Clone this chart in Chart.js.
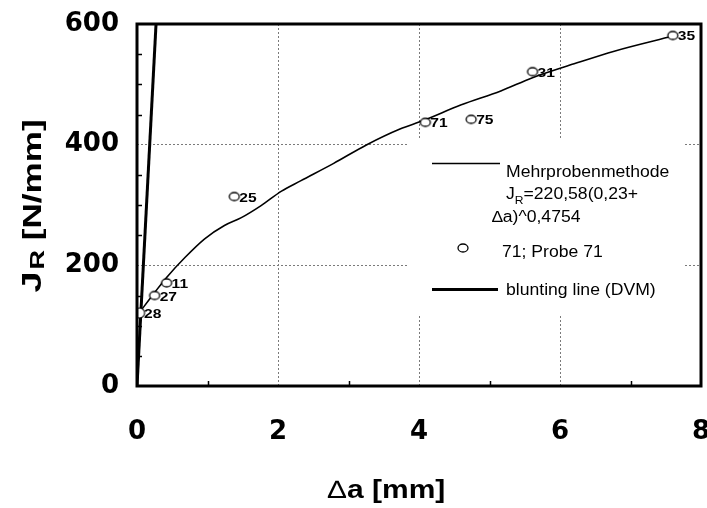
<!DOCTYPE html>
<html><head><meta charset="utf-8">
<script src="https://cdn.jsdelivr.net/npm/chart.js@4/dist/chart.umd.min.js"></script>
<style>html,body{margin:0;padding:0;background:#fff}canvas{display:block}</style>
</head><body>
<canvas id="c" width="707" height="508"></canvas>
<script>
// ---- data ----
const curveX = [0.03, 0.25, 0.42, 0.68, 0.96, 1.24, 1.48, 1.76, 2.05, 2.32, 2.79, 3.26, 3.73, 4.06, 4.6, 5.16, 5.61, 6.2, 6.77, 7.6];
const curveY = [121, 155, 180, 213, 244, 266, 279, 299, 323, 340, 369, 400, 426, 440, 466, 489, 511, 534, 555, 580];
const bluntX = [0, 0.27];
const bluntY = [0, 600];
const probeNames = ['28', '27', '11', '25', '71', '75', '31', '35'];
const probeX = [0.03, 0.25, 0.42, 1.38, 4.09, 4.74, 5.61, 7.6];
const probeY = [121, 150, 171, 314, 437, 442, 521, 581];
const xTicks = [0, 2, 4, 6, 8];
const yTicks = [0, 200, 400, 600];
const xMinor = [1, 3, 5, 7];
const yMinor = [50, 100, 150, 250, 300, 350, 450, 500, 550];
const legendCurve = 'Mehrprobenmethode';
const legendFormula1 = '=220,58(0,23+';
const legendFormula2 = 'a)^0,4754';
const legendProbe = '71; Probe 71';
const legendBlunt = 'blunting line (DVM)';

function ellipseMarker(w, h, lw) {
  const c = document.createElement('canvas');
  c.width = w + 4; c.height = h + 4;
  const g = c.getContext('2d');
  g.fillStyle = '#fff'; g.strokeStyle = '#000'; g.lineWidth = lw;
  g.beginPath(); g.ellipse(c.width / 2, c.height / 2, w / 2, h / 2, 0, 0, 2 * Math.PI);
  g.fill(); g.stroke();
  return c;
}
const marker = ellipseMarker(10, 8, 1.3);
const markerBig = ellipseMarker(11, 10, 1.1);

function txt(ctx, s, x, y, font, stretch) {
  ctx.save();
  ctx.font = font;
  ctx.translate(x, y);
  ctx.scale(stretch, 1);
  ctx.fillText(s, 0, 0);
  const w = ctx.measureText(s).width * stretch;
  ctx.restore();
  return w;
}
function tw(ctx, s, font, stretch) { ctx.save(); ctx.font = font; const w = ctx.measureText(s).width * stretch; ctx.restore(); return w; }

const FONT = '"Liberation Sans", Arial, sans-serif';

const deco = {
  id: 'deco',
  beforeDatasetsDraw(chart) {
    const ctx = chart.ctx;
    ctx.save();
    ctx.fillStyle = '#fff';
    ctx.fillRect(407, 138, 276, 178);
    ctx.restore();
  },
  afterDraw(chart) {
    const ctx = chart.ctx, a = chart.chartArea;
    const xs = chart.scales.x, ys = chart.scales.y;
    ctx.save();
    // frame
    ctx.strokeStyle = '#000'; ctx.lineWidth = 3;
    ctx.strokeRect(a.left, a.top, a.right - a.left, a.bottom - a.top);
    // minor ticks (inward)
    ctx.lineWidth = 1.5;
    ctx.beginPath();
    xMinor.forEach(v => { const px = Math.round(xs.getPixelForValue(v)) + 0.5; ctx.moveTo(px, a.bottom); ctx.lineTo(px, a.bottom - 5); });
    yMinor.forEach(v => { const py = Math.round(ys.getPixelForValue(v)) + 0.5; ctx.moveTo(a.left, py); ctx.lineTo(a.left + 5, py); });
    ctx.stroke();

    ctx.fillStyle = '#000';
    ctx.textBaseline = 'alphabetic';
    ctx.textAlign = 'left';
    // probe labels
    const meta = chart.getDatasetMeta(2);
    meta.data.forEach((pt, i) => {
      txt(ctx, probeNames[i], pt.x + 5, pt.y + 5, 'bold 13px ' + FONT, 1.2);
    });

    // legend
    ctx.strokeStyle = '#000';
    ctx.lineWidth = 1.5;
    ctx.beginPath(); ctx.moveTo(432, 163.5); ctx.lineTo(500, 163.5); ctx.stroke();
    const lf = '16px ' + FONT;
    txt(ctx, legendCurve, 506, 177, lf, 1.1);
    let x = 506;
    x += txt(ctx, 'J', x, 199, lf, 1.1);
    const wR = txt(ctx, 'R', x, 204, '11px ' + FONT, 1.1);
    x += wR;
    txt(ctx, legendFormula1, x, 199, lf, 1.1);
    let x2 = 492;
    x2 += txt(ctx, '\u2206', x2, 222, lf, 1.1);
    txt(ctx, legendFormula2, x2, 222, lf, 1.1);
    ctx.drawImage(marker, 463 - marker.width / 2, 248 - marker.height / 2);
    txt(ctx, legendProbe, 502, 257, lf, 1.1);
    ctx.lineWidth = 3;
    ctx.beginPath(); ctx.moveTo(432, 289.5); ctx.lineTo(498, 289.5); ctx.stroke();
    txt(ctx, legendBlunt, 506, 295, lf, 1.1);

    // x axis title
    const tf = 'bold 25px ' + FONT, tfn = '25px ' + FONT;
    const wD = tw(ctx, '\u2206', tfn, 1.2), wA = tw(ctx, 'a [mm]', tf, 1.2);
    let tx = 386 - (wD + wA) / 2;
    tx += txt(ctx, '\u2206', tx, 498, tfn, 1.2);
    txt(ctx, 'a [mm]', tx + 1, 498, tf, 1.2);

    // y axis title (rotated)
    ctx.save();
    ctx.translate(31, 207);
    ctx.rotate(-Math.PI / 2);
    const fJ = 'bold 28px ' + FONT, fR = 'bold 20px ' + FONT, fN = 'bold 26px ' + FONT;
    const st = 1.35;
    const wJ = tw(ctx, 'J', fJ, st), wRR = tw(ctx, 'R', fR, st), wN = tw(ctx, ' [N/mm]', fN, st);
    let yx = -(wJ + wRR + wN) / 2;
    yx += txt(ctx, 'J', yx, 10, fJ, st);
    yx += txt(ctx, 'R', yx + 2, 13, fR, st) + 2;
    txt(ctx, ' [N/mm]', yx, 10, fN, st);
    ctx.restore();

    ctx.restore();
  }
};

const gridColor = c => (c.tick && (c.tick.value === c.scale.min || c.tick.value === c.scale.max)) ? 'rgba(0,0,0,0)' : '#7a7a7a';

new Chart(document.getElementById('c'), {
  type: 'scatter',
  data: {
    datasets: [
      { label: legendCurve, data: curveX.map((v, i) => ({ x: v, y: curveY[i] })), showLine: true, borderColor: '#000', borderWidth: 1.6, pointRadius: 0, cubicInterpolationMode: 'monotone', order: 3 },
      { label: legendBlunt, data: bluntX.map((v, i) => ({ x: v, y: bluntY[i] })), showLine: true, borderColor: '#000', borderWidth: 3, pointRadius: 0, order: 2 },
      { label: legendProbe, data: probeX.map((v, i) => ({ x: v, y: probeY[i] })), showLine: false, pointStyle: probeNames.map((n, i) => i === 0 ? markerBig : marker), pointRadius: 5, order: 1 }
    ]
  },
  options: {
    responsive: false,
    animation: false,
    events: [],
    layout: { padding: { left: 0, right: 3, top: 24, bottom: 0 } },
    plugins: { legend: { display: false }, tooltip: { enabled: false }, title: { display: false } },
    scales: {
      x: {
        type: 'linear', min: 0, max: 8,
        afterBuildTicks: s => { s.ticks = xTicks.map(v => ({ value: v })); },
        afterFit: s => { s.height = 122; s.paddingLeft = 0; s.paddingRight = 0; },
        ticks: { color: '#000', font: { family: 'DejaVu Sans', weight: 'bold', size: 26 }, padding: 31, maxRotation: 0, autoSkip: false },
        grid: { color: gridColor, lineWidth: 1, drawTicks: false },
        border: { display: false, dash: [2, 2] }
      },
      y: {
        type: 'linear', min: 0, max: 600,
        afterBuildTicks: s => { s.ticks = yTicks.map(v => ({ value: v })); },
        afterFit: s => { s.width = 137; s.paddingTop = 0; s.paddingBottom = 0; },
        ticks: { color: '#000', font: { family: 'DejaVu Sans', weight: 'bold', size: 26 }, padding: 18 },
        grid: { color: gridColor, lineWidth: 1, drawTicks: false },
        border: { display: false, dash: [2, 2] }
      }
    }
  },
  plugins: [deco]
});
</script>
</body></html>
